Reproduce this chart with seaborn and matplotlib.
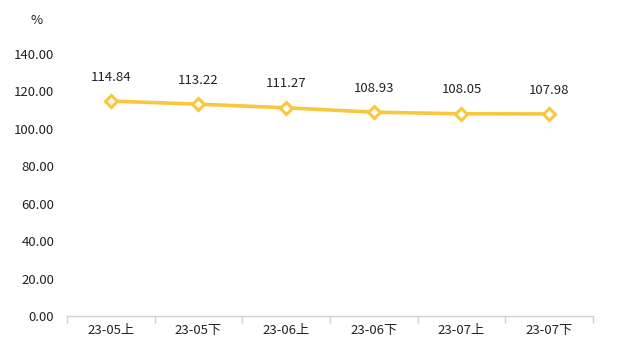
import matplotlib
matplotlib.use("Agg")
import matplotlib.pyplot as plt
import seaborn as sns
import pandas as pd
import numpy as np

categories = ["23-05上", "23-05下", "23-06上", "23-06下", "23-07上", "23-07下"]
values = [114.84, 113.22, 111.27, 108.93, 108.05, 107.98]
yticks = [0, 20, 40, 60, 80, 100, 120, 140]

sns.set_theme(style="white")
plt.rcParams['font.family'] = ['Noto Sans CJK SC', 'DejaVu Sans']

df = pd.DataFrame({"cat": categories, "val": values})

fig = plt.figure(figsize=(6.19, 3.6), dpi=100)
ax = fig.add_axes([0.108, 0.122, 0.85, 0.728])
color = "#F8C73E"
sns.lineplot(data=df, x="cat", y="val", ax=ax, color=color, linewidth=2.6,
             marker="D", markersize=6.5, markerfacecolor="white",
             markeredgecolor=color, markeredgewidth=2.2, sort=False)

ax.set_ylim(0, 140)
ax.set_xlim(-0.5, len(categories) - 0.5)
ax.set_yticks(yticks)
ax.set_yticklabels([f"{v:.2f}" for v in yticks], fontsize=9.5, color="#222222")
ax.set_xticks(range(len(categories)))
ax.set_xticklabels(categories, fontsize=9.5, color="#222222")
ax.set_xticks(np.arange(-0.5, len(categories), 1.0), minor=True)
ax.tick_params(axis="x", which="major", length=0, pad=6)
ax.tick_params(axis="x", which="minor", bottom=True, length=5, color="#D0D0D0", width=1)
ax.tick_params(axis="y", length=0, pad=9)
ax.set_xlabel("")
ax.set_ylabel("")
for s in ["top", "right", "left"]:
    ax.spines[s].set_visible(False)
ax.spines["bottom"].set_color("#D0D0D0")
ax.spines["bottom"].set_linewidth(1)

for i, v in enumerate(values):
    ax.annotate(f"{v:.2f}", (i, v), xytext=(0, 12.5), textcoords="offset points",
                ha="center", va="bottom", fontsize=9.5, color="#222222")

fig.text(37 / 619, 1 - 20 / 360, "%", ha="center", va="center", fontsize=9.5, color="#222222")

fig.savefig("out.png", dpi=100, facecolor="white")
